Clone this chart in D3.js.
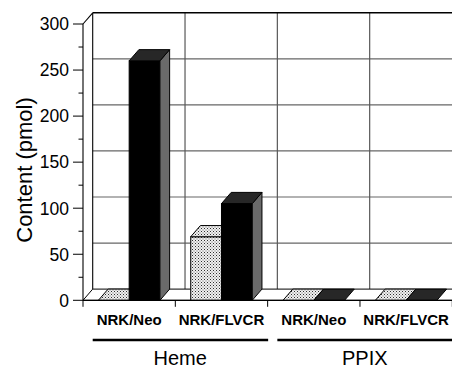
<!DOCTYPE html>
<html>
<head>
<meta charset="utf-8">
<script src="https://cdn.jsdelivr.net/npm/d3@7"></script>
<style>
  html, body { margin: 0; padding: 0; background: #fff; }
  svg { display: block; }
  text { font-family: "Liberation Sans", Arial, Helvetica, sans-serif; fill: #000; }
</style>
</head>
<body>
<svg id="chart" width="452" height="367"></svg>
<script>
// Heme and PPIX content per cell line
const categories = ["NRK/Neo", "NRK/FLVCR", "NRK/Neo", "NRK/FLVCR"];
const categoryGroup = ["Heme", "Heme", "PPIX", "PPIX"];
const groups = ["Heme", "PPIX"];
const seriesNames = ["stippled", "solid"];
const stippledValues = [0, 69, 0, 0];
const solidValues = [260, 105, 0, 0];
const yTicks = [0, 50, 100, 150, 200, 250, 300];
const yMinorTicks = [25, 75, 125, 175, 225, 275];

const svg = d3.select("#chart");

// oblique depth offset of the 3D box
const dx = 9.7, dy = -11.2;

const y = d3.scaleLinear().domain([0, 300]).range([300.3, 24]);
const x = d3.scaleBand().domain(d3.range(categories.length)).range([83, 452.3]);
const xs = d3.scaleBand().domain(seriesNames).range([0, x.bandwidth()])
  .paddingInner(0).paddingOuter(0.5);

const x0 = x.range()[0], x1 = x.range()[1];
const yBase = y(0), yTop = y(300);

// stipple fill
const defs = svg.append("defs");
const pat = defs.append("pattern").attr("id", "stipple")
  .attr("patternUnits", "userSpaceOnUse").attr("width", 3).attr("height", 3);
pat.append("rect").attr("width", 3).attr("height", 3).attr("fill", "#f0f0f0");
pat.append("rect").attr("x", 0).attr("y", 0).attr("width", 1).attr("height", 1).attr("fill", "#2e2e2e");
pat.append("rect").attr("x", 1.5).attr("y", 1.5).attr("width", 1).attr("height", 1).attr("fill", "#666");

// back wall gridlines
const grid = svg.append("g");
grid.selectAll("line.h").data(yTicks.filter(t => t > 0 && t < 300)).join("line")
  .attr("x1", x0 + dx).attr("x2", x1 + dx + 20)
  .attr("y1", d => y(d) + dy).attr("y2", d => y(d) + dy)
  .attr("stroke", "#666").attr("stroke-width", 1.2);
grid.selectAll("line.v").data(d3.range(1, categories.length + 1)).join("line")
  .attr("x1", i => x0 + i * x.step() + dx).attr("x2", i => x0 + i * x.step() + dx)
  .attr("y1", yBase + dy).attr("y2", yTop + dy)
  .attr("stroke", "#585858").attr("stroke-width", 1.2);

// wall edges
const edges = svg.append("g").attr("stroke", "#000").attr("fill", "none");
edges.append("line").attr("x1", x0 + dx).attr("x2", x1 + dx + 20)
  .attr("y1", yTop + dy).attr("y2", yTop + dy).attr("stroke-width", 1.4);
edges.append("line").attr("x1", x0 + dx).attr("x2", x0 + dx)
  .attr("y1", yBase + dy).attr("y2", yTop + dy).attr("stroke-width", 1.1);
edges.append("line").attr("x1", x0).attr("x2", x0 + dx)
  .attr("y1", yTop).attr("y2", yTop + dy).attr("stroke-width", 1.1);

// floor
svg.append("polygon")
  .attr("points", [[x0, yBase], [x0 + dx, yBase + dy], [x1 + dx + 20, yBase + dy], [x1 + 20, yBase]].join(" "))
  .attr("fill", "#fff").attr("stroke", "#000").attr("stroke-width", 1);

// bars
const barData = [];
categories.forEach((c, i) => {
  barData.push({ i, s: "stippled", v: stippledValues[i] });
  barData.push({ i, s: "solid", v: solidValues[i] });
});
const style = {
  stippled: { front: "url(#stipple)", top: "url(#stipple)", side: "url(#stipple)" },
  solid: { front: "#000", top: "#272727", side: "#6a6a6a" }
};
const bars = svg.append("g").attr("stroke", "#000").attr("stroke-width", 1).attr("stroke-linejoin", "miter");
barData.forEach(d => {
  const bx = x(d.i) + xs(d.s), w = xs.bandwidth(), yv = y(d.v);
  const g = bars.append("g");
  if (d.v > 0) {
    g.append("rect").attr("x", bx).attr("y", yv).attr("width", w).attr("height", yBase - yv)
      .attr("fill", style[d.s].front);
    g.append("polygon")
      .attr("points", [[bx + w, yv], [bx + w + dx, yv + dy], [bx + w + dx, yBase + dy], [bx + w, yBase]].join(" "))
      .attr("fill", style[d.s].side);
  }
  g.append("polygon")
    .attr("points", [[bx, yv], [bx + dx, yv + dy], [bx + w + dx, yv + dy], [bx + w, yv]].join(" "))
    .attr("fill", style[d.s].top);
});

// front value axis
const axisG = svg.append("g");
axisG.append("line").attr("x1", x0).attr("x2", x0).attr("y1", yBase).attr("y2", yTop)
  .attr("stroke", "#000").attr("stroke-width", 1.1);
axisG.selectAll("line.maj").data(yTicks).join("line")
  .attr("x1", x0 - 10).attr("x2", x0).attr("y1", d => y(d)).attr("y2", d => y(d))
  .attr("stroke", "#000").attr("stroke-width", 1);
axisG.selectAll("line.min").data(yMinorTicks).join("line")
  .attr("x1", x0 - 4.5).attr("x2", x0).attr("y1", d => y(d)).attr("y2", d => y(d))
  .attr("stroke", "#000").attr("stroke-width", 1);
axisG.selectAll("text").data(yTicks).join("text")
  .attr("x", x0 - 14).attr("y", d => y(d)).attr("dy", "0.36em")
  .attr("text-anchor", "end").style("font-size", "17.5px")
  .text(d => d);

svg.append("text")
  .attr("transform", "translate(32,170) rotate(-90)")
  .attr("text-anchor", "middle").style("font-size", "22px")
  .text("Content (pmol)");

// category axis
svg.append("line").attr("x1", x0).attr("x2", x1 + 20).attr("y1", yBase).attr("y2", yBase)
  .attr("stroke", "#000").attr("stroke-width", 1.2);
svg.append("g").selectAll("line").data(d3.range(categories.length + 1)).join("line")
  .attr("x1", i => x0 + i * x.step()).attr("x2", i => x0 + i * x.step())
  .attr("y1", yBase).attr("y2", yBase + 6.5)
  .attr("stroke", "#000").attr("stroke-width", 1);
svg.append("g").selectAll("text").data(categories).join("text")
  .attr("x", (d, i) => x(i) + x.bandwidth() / 2)
  .attr("y", 324.5)
  .attr("text-anchor", "middle").style("font-size", "15px").style("font-weight", "bold")
  .text(d => d);

// group brackets
groups.forEach(gName => {
  const idx = categoryGroup.map((g, i) => g === gName ? i : -1).filter(i => i >= 0);
  const gs = x(idx[0]), ge = x(idx[idx.length - 1]) + x.bandwidth();
  svg.append("line").attr("x1", gs + dx).attr("x2", ge + 0.5)
    .attr("y1", 340).attr("y2", 340).attr("stroke", "#000").attr("stroke-width", 2.6);
  svg.append("text").attr("x", (gs + ge) / 2 + dx / 2).attr("y", 364.5)
    .attr("text-anchor", "middle").style("font-size", "20px").text(gName);
});
</script>
</body>
</html>
